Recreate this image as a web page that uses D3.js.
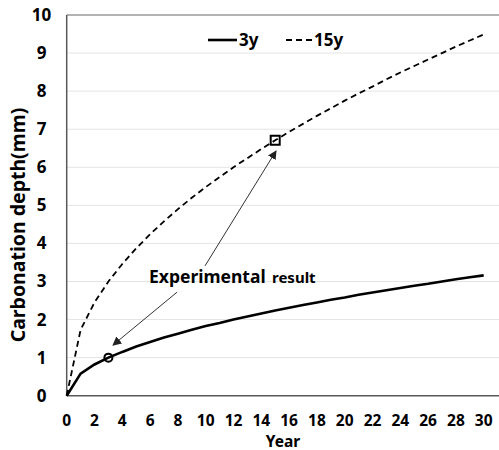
<!DOCTYPE html>
<html>
<head>
<meta charset="utf-8">
<script src="https://cdn.jsdelivr.net/npm/d3@7"></script>
<style>
  body { margin: 0; background: #fff; }
  text { font-family: "Noto Sans", "DejaVu Sans", sans-serif; font-weight: bold; fill: #000; }
</style>
</head>
<body>
<script>
const w = 499;
const h = 450;

// values
var years = [0,1,2,3,4,5,6,7,8,9,10,11,12,13,14,15,16,17,18,19,20,21,22,23,24,25,26,27,28,29,30]
var depth3y = [0,0.58,0.82,1.0,1.15,1.29,1.41,1.53,1.63,1.73,1.83,1.91,2.0,2.08,2.16,2.24,2.31,2.38,2.45,2.52,2.58,2.65,2.71,2.77,2.83,2.89,2.94,3.0,3.06,3.11,3.16]
var depth15y = [0,1.73,2.45,3.0,3.46,3.87,4.24,4.58,4.9,5.2,5.48,5.74,6.0,6.24,6.48,6.71,6.93,7.14,7.35,7.55,7.75,7.94,8.12,8.31,8.49,8.66,8.83,9.0,9.17,9.33,9.49]
var xTicks = [0,2,4,6,8,10,12,14,16,18,20,22,24,26,28,30]
var yTicks = [0,1,2,3,4,5,6,7,8,9,10]
var expCircle = [3, 1.0]
var expSquare = [15, 6.71]

const x = d3.scaleLinear().domain([0, 31.1]).range([66.7, 499]);
const y = d3.scaleLinear().domain([0, 10]).range([395.7, 15]);

const svg = d3.select("body")
              .append("svg")
              .attr("width", w)
              .attr("height", h);

// gridlines
svg.selectAll("line.grid")
   .data(yTicks.filter(d => d > 0 && d < 10))
   .enter()
   .append("line")
   .attr("x1", x(0)).attr("x2", w)
   .attr("y1", d => y(d)).attr("y2", d => y(d))
   .style("stroke", "#e4e4e4")
   .style("stroke-width", 1);

// top border
svg.append("line")
   .attr("x1", x(0)).attr("x2", w)
   .attr("y1", y(10)).attr("y2", y(10))
   .style("stroke", "#9a9a9a")
   .style("stroke-width", 1.5);

// axes lines
svg.append("line")
   .attr("x1", x(0)).attr("x2", x(0))
   .attr("y1", y(10)).attr("y2", y(0))
   .style("stroke", "#595959").style("stroke-width", 1.5);
svg.append("line")
   .attr("x1", x(0)).attr("x2", w)
   .attr("y1", y(0)).attr("y2", y(0))
   .style("stroke", "#595959").style("stroke-width", 1.5);

// tick labels
svg.selectAll("text.yt")
   .data(yTicks)
   .enter()
   .append("text")
   .attr("x", 41.5)
   .attr("y", d => y(d) + 6)
   .attr("text-anchor", "middle")
   .style("font-size", "17px")
   .text(d => d);

svg.selectAll("text.xt")
   .data(xTicks)
   .enter()
   .append("text")
   .attr("x", d => x(d))
   .attr("y", 426)
   .attr("text-anchor", "middle")
   .style("font-size", "15.5px")
   .text(d => d);

// axis titles
svg.append("text")
   .attr("x", 283).attr("y", 446.5)
   .attr("text-anchor", "middle")
   .style("font-size", "15.5px")
   .text("Year");
svg.append("text")
   .attr("transform", "translate(25,225) rotate(-90)")
   .attr("text-anchor", "middle")
   .style("font-size", "19.5px")
   .text("Carbonation depth(mm)");

// series
const line = d3.line().x(d => x(d[0])).y(d => y(d[1]));
svg.append("path")
   .datum(years.map((d, i) => [d, depth15y[i]]))
   .attr("d", line)
   .style("fill", "none").style("stroke", "#000")
   .style("stroke-width", 1.8).style("stroke-dasharray", "6,4");
svg.append("path")
   .datum(years.map((d, i) => [d, depth3y[i]]))
   .attr("d", line)
   .style("fill", "none").style("stroke", "#000")
   .style("stroke-width", 2.6);

// experimental markers
svg.append("circle")
   .attr("cx", x(expCircle[0])).attr("cy", y(expCircle[1]))
   .attr("r", 4)
   .style("fill", "none").style("stroke", "#000").style("stroke-width", 2);
svg.append("rect")
   .attr("x", x(expSquare[0]) - 4.5).attr("y", y(expSquare[1]) - 4.5)
   .attr("width", 9).attr("height", 9)
   .style("fill", "none").style("stroke", "#000").style("stroke-width", 2);

// annotation arrows (data coordinates)
svg.append("defs").append("marker")
   .attr("id", "ah")
   .attr("viewBox", "0 0 10 10")
   .attr("refX", 9).attr("refY", 5)
   .attr("markerWidth", 9).attr("markerHeight", 9)
   .attr("markerUnits", "userSpaceOnUse")
   .attr("orient", "auto")
   .append("path")
   .attr("d", "M0,0 L10,5 L0,10 Z")
   .style("fill", "#222");

var arrows = [[7.94, 2.72, 3.33, 1.33], [9.95, 3.41, 15.06, 6.43]]
svg.selectAll("line.arrow")
   .data(arrows)
   .enter()
   .append("line")
   .attr("x1", d => x(d[0])).attr("y1", d => y(d[1]))
   .attr("x2", d => x(d[2])).attr("y2", d => y(d[3]))
   .style("stroke", "#333").style("stroke-width", 1)
   .attr("marker-end", "url(#ah)");

svg.append("text")
   .attr("x", 149).attr("y", 283.3)
   .style("font-size", "17.5px")
   .text("Experimental");
svg.append("text")
   .attr("x", 272).attr("y", 283.3)
   .style("font-size", "15px")
   .text("result");

// legend
svg.append("line")
   .attr("x1", 208).attr("x2", 237).attr("y1", 40).attr("y2", 40)
   .style("stroke", "#000").style("stroke-width", 2.6);
svg.append("text").attr("x", 239).attr("y", 46).style("font-size", "17px").text("3y");
svg.append("line")
   .attr("x1", 286).attr("x2", 313).attr("y1", 40).attr("y2", 40)
   .style("stroke", "#000").style("stroke-width", 1.8).style("stroke-dasharray", "6,4");
svg.append("text").attr("x", 314).attr("y", 46).style("font-size", "17px").text("15y");
</script>
</body>
</html>
